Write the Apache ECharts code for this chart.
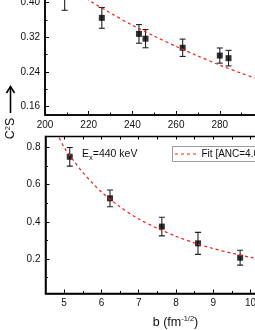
<!DOCTYPE html>
<html><head><meta charset="utf-8">
<script src="https://cdn.jsdelivr.net/npm/echarts@6/dist/echarts.min.js"></script>
<style>html,body{margin:0;padding:0;background:#fff}#c{width:255px;height:330px}</style>
</head><body><div id="c"></div>
<script>
// ---- top panel data ----
const topX = [209, 226, 243, 246, 263, 280, 284];
const topY = [0.418, 0.365, 0.328, 0.317, 0.296, 0.278, 0.272];
const topErr = [0.0355, 0.024, 0.0215, 0.021, 0.020, 0.0175, 0.018];
const topFitX = [212, 220, 230, 240, 250, 260, 270, 280, 290, 300];
const topFitY = [0.432, 0.406, 0.376, 0.348, 0.323, 0.299, 0.277, 0.256, 0.237, 0.220];
const topXTicks = [200, 220, 240, 260, 280, 300];
const topYMajor = [0.16, 0.24, 0.32, 0.40];
const topYMinor = [0.20, 0.28, 0.36, 0.44];
// ---- bottom panel data ----
const botX = [5.15, 6.23, 7.62, 8.59, 9.72];
const botY = [0.749, 0.526, 0.374, 0.284, 0.207];
const botErr = [0.050, 0.045, 0.050, 0.059, 0.040];
const botFitX = [4.8, 5.0, 5.25, 5.5, 5.75, 6.0, 6.5, 7.0, 7.5, 8.0, 8.5, 9.0, 9.5, 10.0, 10.5, 11.0];
const botFitY = [0.88, 0.80, 0.73, 0.665, 0.61, 0.56, 0.48, 0.415, 0.365, 0.322, 0.286, 0.256, 0.231, 0.209, 0.19, 0.174];
const botXMajor = [5, 6, 7, 8, 9, 10, 11];
const botXMinor = [5.5, 6.5, 7.5, 8.5, 9.5, 10.5];
const botYMajor = [0.2, 0.4, 0.6, 0.8];
const botYMinor = [0.1, 0.3, 0.5, 0.7];
const fitName = 'Fit [ANC=4.0 fm-1/2]';

const FONT = 'Liberation Sans';
const chart = echarts.init(document.getElementById('c'), null, {renderer: 'canvas'});

function errData(xs, ys, es) { return xs.map((x, i) => [x, ys[i] - es[i], ys[i] + es[i]]); }
function errRender(params, api) {
  const x = api.value(0);
  const p1 = api.coord([x, api.value(1)]);
  const p2 = api.coord([x, api.value(2)]);
  const w = 3;
  const st = {stroke: '#222', lineWidth: 1.1};
  return {type: 'group', children: [
    {type: 'line', shape: {x1: p1[0], y1: p1[1], x2: p2[0], y2: p2[1]}, style: st},
    {type: 'line', shape: {x1: p1[0] - w, y1: p1[1], x2: p1[0] + w, y2: p1[1]}, style: st},
    {type: 'line', shape: {x1: p2[0] - w, y1: p2[1], x2: p2[0] + w, y2: p2[1]}, style: st}
  ]};
}
const axisLine = {show: true, lineStyle: {color: '#000', width: 1.5}};
const lbl = {fontFamily: FONT, fontSize: 10, color: '#111'};

const option = {
  animation: false,
  backgroundColor: '#fff',
  grid: [
    {left: 45, top: -20, width: 218.5, height: 135, show: true, borderColor: '#000', borderWidth: 1.5, backgroundColor: 'transparent', containLabel: false, outerBoundsMode: 'none'},
    {left: 45.5, top: 136.5, width: 261, height: 157, show: true, borderColor: '#000', borderWidth: 1.5, backgroundColor: 'transparent', containLabel: false, outerBoundsMode: 'none'}
  ],
  xAxis: [
    {gridIndex: 0, type: 'value', min: 200, max: 300, interval: 20, position: 'bottom',
      axisLine: axisLine, splitLine: {show: false},
      axisTick: {inside: true, length: 4, lineStyle: {color: '#000', width: 1}},
      minorTick: {show: true, splitNumber: 2, length: 2.5, lineStyle: {color: '#000', width: 1}},
      axisLabel: Object.assign({margin: 5, showMaxLabel: false}, lbl)},
    {gridIndex: 1, type: 'value', min: 4.5, max: 11.5, position: 'bottom',
      axisLine: axisLine, splitLine: {show: false},
      axisTick: {inside: true, length: 4, customValues: botXMajor, lineStyle: {color: '#000', width: 1}},
      axisLabel: Object.assign({margin: 5, customValues: botXMajor}, lbl)},
    {gridIndex: 1, type: 'value', min: 4.5, max: 11.5, position: 'bottom',
      axisLine: {show: false}, splitLine: {show: false},
      axisTick: {inside: true, length: 2.5, customValues: botXMinor, lineStyle: {color: '#000', width: 1}},
      axisLabel: {show: false}},
    {gridIndex: 1, type: 'value', min: 4.5, max: 11.5, position: 'top',
      axisLine: {show: false}, splitLine: {show: false},
      axisTick: {inside: true, length: 3, customValues: botXMajor.concat(botXMinor), lineStyle: {color: '#000', width: 1}},
      axisLabel: {show: false}}
  ],
  yAxis: [
    {gridIndex: 0, type: 'value', min: 0.1408, max: 0.4524, position: 'left',
      axisLine: axisLine, splitLine: {show: false},
      axisTick: {inside: true, length: 4, customValues: topYMajor, lineStyle: {color: '#000', width: 1}},
      axisLabel: Object.assign({margin: 5, customValues: topYMajor, formatter: v => v.toFixed(2)}, lbl)},
    {gridIndex: 0, type: 'value', min: 0.1408, max: 0.4524, position: 'left',
      axisLine: {show: false}, splitLine: {show: false},
      axisTick: {inside: true, length: 2.5, customValues: topYMinor, lineStyle: {color: '#000', width: 1}},
      axisLabel: {show: false}},
    {gridIndex: 1, type: 'value', min: 0.0147, max: 0.858, position: 'left',
      axisLine: axisLine, splitLine: {show: false},
      axisTick: {inside: true, length: 4, customValues: botYMajor, lineStyle: {color: '#000', width: 1}},
      axisLabel: Object.assign({margin: 5, customValues: botYMajor, formatter: v => v.toFixed(1)}, lbl)},
    {gridIndex: 1, type: 'value', min: 0.0147, max: 0.858, position: 'left',
      axisLine: {show: false}, splitLine: {show: false},
      axisTick: {inside: true, length: 2.5, customValues: botYMinor, lineStyle: {color: '#000', width: 1}},
      axisLabel: {show: false}}
  ],
  series: [
    {type: 'custom', xAxisIndex: 0, yAxisIndex: 0, renderItem: errRender, data: errData(topX, topY, topErr), clip: true, z: 2},
    {type: 'scatter', xAxisIndex: 0, yAxisIndex: 0, symbol: 'rect', symbolSize: 6, itemStyle: {color: '#000'},
      data: topX.map((x, i) => [x, topY[i]]), z: 3},
    {type: 'line', name: 'topfit', xAxisIndex: 0, yAxisIndex: 0, showSymbol: false, symbol: 'none', smooth: 0.3, clip: true,
      lineStyle: {color: '#f02020', width: 1.2, type: [3, 3]}, data: topFitX.map((x, i) => [x, topFitY[i]]), z: 4},
    {type: 'custom', xAxisIndex: 1, yAxisIndex: 2, renderItem: errRender, data: errData(botX, botY, botErr), clip: true, z: 2},
    {type: 'scatter', xAxisIndex: 1, yAxisIndex: 2, symbol: 'rect', symbolSize: 6, itemStyle: {color: '#000'},
      data: botX.map((x, i) => [x, botY[i]]), z: 3},
    {type: 'line', name: fitName, xAxisIndex: 1, yAxisIndex: 2, showSymbol: false, symbol: 'none', smooth: 0.3, clip: true,
      lineStyle: {color: '#f02020', width: 1.2, type: [3, 3]}, data: botFitX.map((x, i) => [x, botFitY[i]]), z: 4}
  ],
  graphic: [
    {type: 'rect', shape: {x: 172.5, y: 146.5, width: 100, height: 15}, style: {fill: '#fff', stroke: '#9a9a9a', lineWidth: 1}, z: 10},
    {type: 'line', shape: {x1: 175, y1: 154, x2: 197, y2: 154}, style: {stroke: '#f02020', lineWidth: 1.2, lineDash: [3, 3]}, z: 11},
    {type: 'text', x: 201.5, y: 154.5, z: 11, style: {text: fitName, font: '10px ' + FONT, fill: '#111', verticalAlign: 'middle'}},
    {type: 'text', x: 82, y: 154.5, style: {
      text: 'E{sub|x}=440 keV', font: '10.5px ' + FONT, fill: '#111', verticalAlign: 'middle',
      rich: {sub: {fontSize: 7.5, fontFamily: FONT, fill: '#111', padding: [7, 0, 0, 0]}}}},
    {type: 'text', x: 175.5, y: 322.5, style: {
      text: 'b (fm{sup|-1/2})', font: '12.5px ' + FONT, fill: '#111', align: 'center', verticalAlign: 'middle',
      rich: {sup: {fontSize: 7.5, fontFamily: FONT, fill: '#111', padding: [0, 0, 7, 0]}}}},
    {type: 'text', x: 11, y: 128.5, rotation: Math.PI / 2, style: {
      text: 'C{sup|2}S', font: '12.5px ' + FONT, fill: '#111', align: 'center', verticalAlign: 'middle',
      rich: {sup: {fontSize: 7.5, fontFamily: FONT, fill: '#111', padding: [0, 0, 7, 0]}}}},
    {type: 'line', shape: {x1: 10.5, y1: 113, x2: 10.5, y2: 87}, style: {stroke: '#000', lineWidth: 1.6}},
    {type: 'polyline', shape: {points: [[6.5, 93], [10.5, 86.5], [14.5, 93]]}, style: {stroke: '#000', lineWidth: 1.6, fill: null}}
  ]
};
chart.setOption(option);
</script></body></html>
